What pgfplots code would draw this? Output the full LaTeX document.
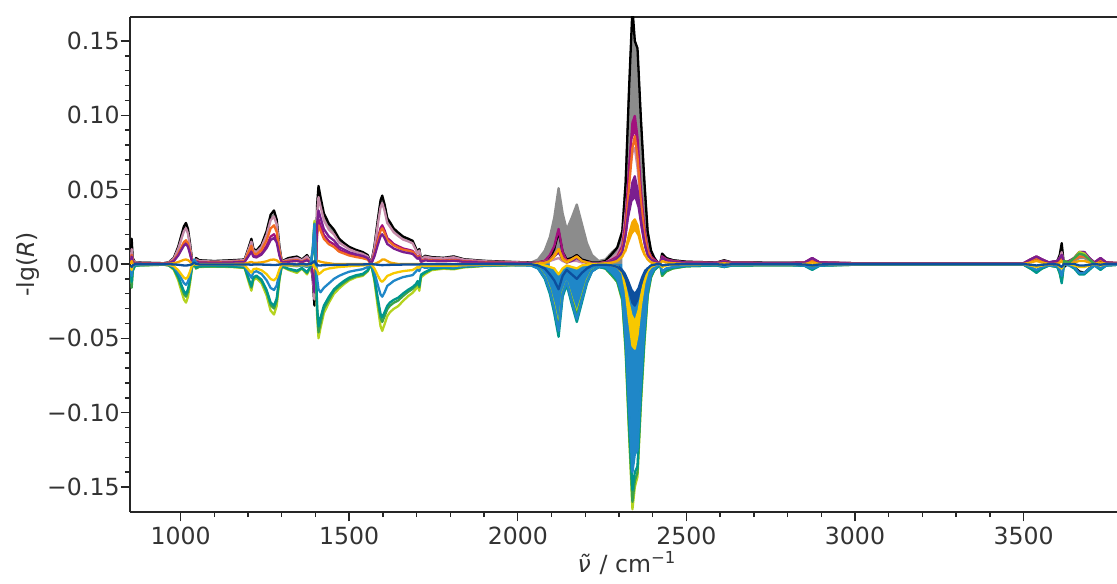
\documentclass[border=0pt]{standalone}
\usepackage{pgfplots}
\usepackage{pgfplotstable}
\usepackage{fontspec}
\setmainfont{DejaVu Sans}
\pgfplotsset{compat=1.18}
\definecolor{cblack}{HTML}{000000}
\definecolor{cgray}{HTML}{8C8C8C}
\definecolor{cmauve}{HTML}{C48AA8}
\definecolor{cmag}{HTML}{A2107D}
\definecolor{corange}{HTML}{F26B21}
\definecolor{cpurple}{HTML}{7B1E8F}
\definecolor{cgold}{HTML}{F5A700}
\definecolor{clime}{HTML}{B5D31F}
\definecolor{cgreen}{HTML}{3AA24A}
\definecolor{cteal}{HTML}{00968C}
\definecolor{cblue}{HTML}{1F87C8}
\definecolor{cdblue}{HTML}{0C4F9E}
\definecolor{cyellow}{HTML}{F7C800}

\pgfplotstableread{
x bk gr mv mg or pu go
852 0.004 0.003 0.002 0.002 0.001 0.001 0
855 0.017 0.012 0.010 0.006 0.006 0.005 0.002
858 0.004 0.003 0.003 0.002 0.002 0.001 0
865 0.001 0.001 0.001 0.0005 0.0005 0.0005 0
900 0.0008 0.0008 0.0006 0.0004 0.0004 0.0003 0
950 0.0005 0.0005 0.0004 0.0002 0.0002 0.0002 0
965 0.0011 0.001 0.001 0.0006 0.0006 0.0005 0.0001
980 0.0041 0.0038 0.0036 0.0023 0.0024 0.002 0.0005
993 0.0116 0.0105 0.0101 0.0063 0.0067 0.0057 0.0013
1003 0.0199 0.018 0.0173 0.0108 0.0115 0.0097 0.0022
1010 0.0254 0.023 0.0221 0.0138 0.0147 0.0124 0.0028
1016 0.0276 0.025 0.024 0.015 0.016 0.0135 0.003
1022 0.0235 0.0213 0.0204 0.0128 0.0136 0.0115 0.0026
1028 0.0138 0.0125 0.012 0.0075 0.008 0.0068 0.0015
1034 0.0028 0.0025 0.0024 0.0015 0.0016 0.0014 0.0003
1040 -0.001 -0.001 -0.001 -0.0005 -0.0005 -0.0005 0
1046 0.004 0.0035 0.003 0.002 0.002 0.0015 0
1055 0.0025 0.0022 0.002 0.0012 0.0012 0.001 0
1100 0.002 0.0018 0.0016 0.001 0.001 0.0008 0
1150 0.0025 0.0022 0.002 0.0012 0.0013 0.001 0
1190 0.003 0.0028 0.0026 0.0016 0.0018 0.0014 0.0002
1203 0.0119 0.0109 0.0106 0.0066 0.0086 0.0058 0.001
1210 0.0169 0.0155 0.015 0.0094 0.0122 0.0082 0.0014
1216 0.0101 0.0092 0.009 0.0056 0.0073 0.0049 0.0008
1225 0.009 0.0083 0.008 0.005 0.0065 0.0044 0.0008
1240 0.013 0.0119 0.0115 0.0072 0.0094 0.0063 0.0011
1255 0.022 0.0201 0.0195 0.0122 0.0159 0.0107 0.0018
1267 0.0331 0.0304 0.0294 0.0184 0.0239 0.0161 0.0028
1277 0.036 0.033 0.032 0.020 0.026 0.0175 0.003
1285 0.0299 0.0274 0.0266 0.0166 0.0216 0.0145 0.0025
1293 0.0119 0.0109 0.0106 0.0066 0.0086 0.0058 0.001
1300 0.0018 0.0017 0.0016 0.001 0.0013 0.0009 0.0002
1320 0.004 0.0035 0.003 0.002 0.002 0.0015 0
1345 0.005 0.0045 0.004 0.0025 0.0025 0.002 0
1360 0.003 0.0028 0.0025 0.0015 0.0015 0.0012 0
1375 0.006 0.0055 0.005 0.003 0.003 0.0025 0
1385 0.002 0.002 0.0018 0.001 0.001 0.001 0
1392 -0.010 -0.0091 -0.0086 -0.0057 -0.0049 -0.0068 0
1397 -0.028 -0.0254 -0.0239 -0.0159 -0.0138 -0.0191 -0.002
1401 -0.005 -0.0048 -0.0045 -0.003 -0.0026 -0.0036 0
1405 0.040 0.0365 0.0342 0.0228 0.0198 0.0274 0.002
1409 0.0525 0.048 0.045 0.030 0.026 0.036 0.002
1415 0.045 0.0413 0.0387 0.0258 0.0224 0.031 0.0015
1425 0.034 0.0312 0.0293 0.0195 0.0169 0.0234 0.001
1440 0.027 0.0245 0.023 0.0153 0.0133 0.0184 0.0005
1455 0.023 0.0211 0.0198 0.0132 0.0114 0.0158 0
1470 0.017 0.0154 0.0144 0.0096 0.0083 0.0115 0
1485 0.014 0.013 0.0122 0.0081 0.007 0.0097 0
1500 0.0115 0.0106 0.0099 0.0066 0.0057 0.0079 0
1520 0.0095 0.0086 0.0081 0.0054 0.0047 0.0065 0
1540 0.008 0.0072 0.0068 0.0045 0.0039 0.0054 0
1555 0.006 0.0053 0.005 0.0033 0.0029 0.004 0
1565 0 0 0 0 0 0 0
1575 0.012 0.0114 0.0107 0.0068 0.0062 0.0052 0
1585 0.0299 0.0286 0.0267 0.0169 0.0156 0.013 0.001
1593 0.0428 0.0409 0.0381 0.0242 0.0223 0.0186 0.002
1598 0.046 0.044 0.041 0.026 0.024 0.020 0.003
1605 0.040 0.0383 0.0357 0.0226 0.0209 0.0174 0.003
1613 0.0308 0.0295 0.0275 0.0174 0.0161 0.0134 0.002
1621 0.0281 0.0268 0.025 0.0159 0.0146 0.0122 0.001
1632 0.0239 0.0229 0.0213 0.0135 0.0125 0.0104 0.0005
1645 0.0212 0.0202 0.0189 0.012 0.011 0.0092 0
1660 0.0184 0.0176 0.0164 0.0104 0.0096 0.008 0
1675 0.017 0.0163 0.0152 0.0096 0.0089 0.0074 0
1688 0.0156 0.015 0.0139 0.0088 0.0082 0.0068 0
1697 0.011 0.0106 0.0098 0.0062 0.0058 0.0048 0
1703 0.0078 0.0075 0.007 0.0044 0.0041 0.0034 0
1708 0.0101 0.0097 0.009 0.0057 0.0053 0.0044 0
1713 0.0032 0.0031 0.0029 0.0018 0.0017 0.0014 0
1725 0.0055 0.0053 0.0049 0.0031 0.0029 0.0024 0
1745 0.0046 0.0044 0.0041 0.0026 0.0024 0.002 0
1780 0.0041 0.004 0.0037 0.0023 0.0022 0.0018 0
1810 0.0051 0.0048 0.0045 0.0029 0.0026 0.0022 0
1840 0.0032 0.0031 0.0029 0.0018 0.0017 0.0014 0
1900 0.0021 0.002 0.0018 0.0012 0.0011 0.0009 0
1980 0.0014 0.0013 0.0012 0.0008 0.0007 0.0006 0
2040 0.001 0.001 0.0008 0.0005 0.0005 0.0004 0
2060 0.001 0.003 0.001 0.001 0.0008 0.0006 0.0003
2080 0.002 0.009 0.0015 0.002 0.0015 0.0012 0.0008
2095 0.004 0.018 0.002 0.006 0.003 0.003 0.002
2108 0.010 0.031 0.003 0.012 0.006 0.005 0.005
2121 0.022 0.051 0.004 0.0236 0.010 0.008 0.010
2133 0.008 0.034 0.002 0.008 0.004 0.003 0.003
2145 0.003 0.023 0.001 0.002 0.002 0.001 0.001
2160 0.004 0.031 0.002 0.003 0.003 0.002 0.003
2175 0.006 0.040 0.002 0.005 0.005 0.004 0.005
2190 0.003 0.027 0.001 0.002 0.002 0.002 0.002
2205 0.002 0.014 0.001 0.001 0.001 0.001 0.001
2220 0.001 0.006 0.0005 0.0005 0.0005 0.0005 0
2240 0.001 0.002 0.0005 0.0005 0.0005 0.0005 0
2260 0.002 0.003 0.001 0.001 0.001 0.001 0.0005
2280 0.007 0.008 0.004 0.003 0.002 0.002 0.001
2295 0.011 0.011 0.007 0.005 0.004 0.004 0.002
2310 0.022 0.022 0.014 0.012 0.010 0.008 0.005
2320 0.055 0.055 0.035 0.030 0.024 0.020 0.010
2330 0.118 0.115 0.060 0.065 0.052 0.040 0.020
2340 0.172 0.164 0.075 0.095 0.078 0.055 0.028
2347 0.150 0.150 0.078 0.0996 0.086 0.059 0.030
2355 0.145 0.139 0.065 0.085 0.072 0.050 0.026
2365 0.098 0.095 0.040 0.050 0.042 0.030 0.015
2375 0.057 0.055 0.020 0.025 0.021 0.015 0.007
2385 0.022 0.021 0.009 0.010 0.009 0.006 0.003
2395 0.009 0.009 0.004 0.005 0.004 0.003 0.001
2405 0.004 0.004 0.002 0.003 0.002 0.002 0.0005
2415 0.001 0.001 0.001 0.001 0.001 0.001 0
2422 0 0 0 0 0 0 0
2428 0.007 0.006 0.005 0.005 0.004 0.004 0.002
2440 0.004 0.004 0.003 0.003 0.0025 0.0025 0.001
2460 0.0025 0.0025 0.002 0.002 0.0015 0.0015 0.0005
2500 0.0015 0.0015 0.001 0.001 0.001 0.001 0
2590 0.001 0.001 0.0008 0.0008 0.0006 0.0006 0
2612 0.0025 0.0022 0.002 0.002 0.0015 0.0015 0.0005
2635 0.001 0.001 0.0008 0.0008 0.0006 0.0006 0
2800 0.0008 0.0008 0.0006 0.0006 0.0005 0.0005 0
2850 0.001 0.001 0.001 0.001 0.0008 0.0008 0
2873 0.003 0.003 0.003 0.004 0.002 0.004 0.001
2895 0.001 0.001 0.001 0.001 0.0008 0.001 0
3000 0.0005 0.0005 0.0005 0.0005 0.0004 0.0004 0
3400 0.0005 0.0005 0.0005 0.0005 0.0004 0.0004 0
3500 0.0005 0.0005 0.0005 0.0005 0.0004 0.0004 0
3520 0.002 0.003 0.003 0.003 0.002 0.003 0.001
3538 0.004 0.005 0.005 0.005 0.004 0.005 0.002
3555 0.002 0.003 0.003 0.003 0.002 0.003 0.001
3575 0.001 0.001 0.001 0.001 0.001 0.001 0
3600 0.002 0.002 0.002 0.002 0.001 0.002 0
3607 0.006 0.005 0.004 0.004 0.003 0.004 0.001
3613 0.014 0.011 0.008 0.006 0.005 0.006 0.002
3620 -0.002 -0.002 0.0 0.001 0.0 0.001 0
3635 0.001 0.002 0.002 0.002 0.001 0.002 0
3650 -0.002 0.002 0.003 0.004 0.003 0.004 0.001
3665 -0.005 0.004 0.006 0.008 0.005 0.008 0.002
3680 -0.006 0.004 0.006 0.008 0.005 0.008 0.002
3695 -0.003 0.002 0.003 0.004 0.003 0.004 0.001
3710 0.0 0.001 0.001 0.001 0.001 0.001 0
3728 0.002 0.003 0.003 0.004 0.003 0.004 0.001
3745 0.001 0.001 0.001 0.001 0.001 0.001 0
3780 0.0005 0.0005 0.0005 0.0005 0.0005 0.0005 0
}\pos

\pgfplotstableread{
x li gn te bl db ye
852 -0.004 -0.006 -0.005 -0.003 -0.001 -0.002
855 -0.013 -0.016 -0.012 -0.008 -0.002 -0.004
858 -0.004 -0.005 -0.004 -0.002 -0.001 -0.001
865 -0.001 -0.001 -0.001 -0.0005 0 0
900 -0.0008 -0.0008 -0.0007 -0.0004 -0.0002 -0.0002
950 -0.0005 -0.0005 -0.0004 -0.0002 -0.0001 -0.0001
965 -0.001 -0.0009 -0.0008 -0.0006 -0.0002 -0.0004
980 -0.0039 -0.0033 -0.003 -0.0021 -0.0003 -0.0015
993 -0.0109 -0.0092 -0.0084 -0.0059 -0.0005 -0.0042
1003 -0.0187 -0.0158 -0.0144 -0.0101 -0.0008 -0.0072
1010 -0.0239 -0.0202 -0.0184 -0.0129 -0.001 -0.0092
1016 -0.026 -0.022 -0.020 -0.014 -0.001 -0.010
1022 -0.0221 -0.0187 -0.017 -0.0119 -0.0009 -0.0085
1028 -0.013 -0.011 -0.010 -0.007 -0.0006 -0.005
1034 -0.0026 -0.0022 -0.002 -0.0014 -0.0002 -0.001
1040 0.0005 0.0005 0.0005 0.003 0.001 0
1046 -0.003 -0.003 -0.0025 0.001 0 -0.0005
1055 -0.002 -0.0018 -0.0015 -0.0005 -0.0003 -0.0003
1100 -0.0018 -0.0016 -0.0014 -0.0005 -0.0003 -0.0003
1150 -0.002 -0.0018 -0.0016 -0.0005 -0.0003 -0.0003
1190 -0.0027 -0.0024 -0.0022 -0.0014 -0.0003 -0.0009
1203 -0.0129 -0.0114 -0.0106 -0.0067 -0.0004 -0.0042
1210 -0.018 -0.0159 -0.0148 -0.0093 -0.0005 -0.0058
1216 -0.0109 -0.0096 -0.009 -0.0056 -0.0004 -0.0035
1225 -0.0095 -0.0084 -0.0078 -0.0049 -0.0004 -0.0031
1240 -0.0129 -0.0114 -0.0106 -0.0067 -0.0004 -0.0042
1255 -0.0211 -0.0186 -0.0174 -0.0109 -0.0005 -0.0068
1267 -0.0313 -0.0276 -0.0258 -0.0161 -0.0006 -0.0101
1277 -0.034 -0.030 -0.028 -0.0175 -0.0007 -0.011
1285 -0.0282 -0.0249 -0.0232 -0.0145 -0.0006 -0.0091
1293 -0.0112 -0.0099 -0.0092 -0.0058 -0.0004 -0.0036
1300 -0.0017 -0.0015 -0.0014 -0.0009 -0.0002 -0.0006
1320 -0.004 -0.0035 -0.0032 -0.001 -0.0002 -0.001
1345 -0.006 -0.005 -0.0045 -0.0015 -0.0003 -0.001
1360 -0.003 -0.003 -0.0027 -0.001 -0.0002 -0.0008
1375 -0.007 -0.006 -0.0055 -0.002 -0.0003 -0.001
1385 -0.002 -0.002 -0.0018 -0.0005 -0.0001 -0.0005
1392 0.010 0.009 0.008 0.010 0.001 0.0
1397 0.029 0.027 0.026 0.027 0.002 -0.002
1401 0.0 0.0 0.0 0.004 0.0005 -0.003
1405 -0.035 -0.032 -0.029 -0.010 -0.0005 -0.004
1409 -0.050 -0.046 -0.042 -0.017 -0.001 -0.007
1415 -0.043 -0.040 -0.036 -0.019 -0.001 -0.006
1425 -0.033 -0.030 -0.028 -0.016 -0.0008 -0.004
1440 -0.026 -0.024 -0.022 -0.013 -0.0007 -0.003
1455 -0.020 -0.018 -0.017 -0.010 -0.0006 -0.0025
1470 -0.0165 -0.015 -0.0139 -0.008 -0.0005 -0.002
1485 -0.0135 -0.0124 -0.0113 -0.0065 -0.0005 -0.0018
1500 -0.011 -0.0101 -0.0092 -0.0052 -0.0004 -0.0015
1520 -0.009 -0.0083 -0.0076 -0.0043 -0.0004 -0.0012
1540 -0.008 -0.0074 -0.0067 -0.0035 -0.0003 -0.001
1555 -0.005 -0.0046 -0.0042 -0.002 -0.0002 -0.0006
1565 0 0 0 0 0 0
1575 -0.0117 -0.0101 -0.0094 -0.0057 -0.0003 -0.0031
1585 -0.0293 -0.0254 -0.0234 -0.0143 -0.0005 -0.0078
1593 -0.0419 -0.0363 -0.0335 -0.0205 -0.0007 -0.0112
1598 -0.045 -0.039 -0.036 -0.022 -0.0008 -0.012
1605 -0.0405 -0.0351 -0.0324 -0.0191 -0.0007 -0.0104
1613 -0.0351 -0.0304 -0.0281 -0.0147 -0.0006 -0.008
1621 -0.0324 -0.0281 -0.0259 -0.0134 -0.0006 -0.0073
1632 -0.0302 -0.0261 -0.0241 -0.0114 -0.0005 -0.0062
1645 -0.0284 -0.0246 -0.0227 -0.0101 -0.0005 -0.0055
1660 -0.0248 -0.0215 -0.0198 -0.0088 -0.0004 -0.0048
1675 -0.0216 -0.0187 -0.0173 -0.0081 -0.0004 -0.0044
1688 -0.0194 -0.0168 -0.0155 -0.0075 -0.0004 -0.0041
1697 -0.0171 -0.0148 -0.0137 -0.0053 -0.0003 -0.0029
1703 -0.0144 -0.0125 -0.0115 -0.0037 -0.0003 -0.002
1708 -0.018 -0.0156 -0.0144 -0.0048 -0.0003 -0.0026
1713 -0.009 -0.0078 -0.0072 -0.0015 -0.0002 -0.0008
1725 -0.0068 -0.0059 -0.0054 -0.0026 -0.0002 -0.0014
1745 -0.0041 -0.0035 -0.0032 -0.0022 -0.0002 -0.0012
1780 -0.0032 -0.0027 -0.0025 -0.002 -0.0002 -0.0011
1810 -0.0036 -0.0031 -0.0029 -0.0024 -0.0002 -0.0013
1840 -0.0023 -0.002 -0.0018 -0.0015 -0.0002 -0.0008
1900 -0.0014 -0.0012 -0.0011 -0.001 -0.0001 -0.0005
1980 -0.0009 -0.0008 -0.0007 -0.0007 -0.0001 -0.0004
2040 -0.0007 -0.0006 -0.001 -0.001 -0.0002 -0.0003
2060 -0.0025 -0.0027 -0.003 -0.003 -0.001 -0.0005
2080 -0.0085 -0.009 -0.010 -0.009 -0.003 -0.001
2095 -0.017 -0.018 -0.020 -0.018 -0.007 -0.002
2108 -0.028 -0.030 -0.033 -0.030 -0.011 -0.003
2121 -0.042 -0.044 -0.049 -0.045 -0.017 -0.007
2133 -0.019 -0.020 -0.022 -0.020 -0.008 -0.003
2145 -0.012 -0.013 -0.014 -0.012 -0.004 -0.001
2160 -0.023 -0.024 -0.027 -0.025 -0.007 -0.002
2175 -0.033 -0.035 -0.039 -0.037 -0.010 -0.003
2190 -0.022 -0.023 -0.026 -0.024 -0.006 -0.001
2205 -0.011 -0.012 -0.013 -0.012 -0.003 -0.0005
2220 -0.0045 -0.0048 -0.005 -0.005 -0.001 0
2240 -0.002 -0.002 -0.002 -0.002 -0.0005 0
2260 -0.003 -0.003 -0.003 -0.002 -0.0005 0
2280 -0.008 -0.008 -0.007 -0.006 -0.001 -0.001
2295 -0.012 -0.012 -0.011 -0.010 -0.002 -0.002
2310 -0.025 -0.024 -0.023 -0.021 -0.005 -0.006
2320 -0.060 -0.058 -0.055 -0.050 -0.010 -0.018
2330 -0.115 -0.112 -0.106 -0.098 -0.018 -0.038
2340 -0.165 -0.160 -0.152 -0.140 -0.026 -0.055
2347 -0.150 -0.146 -0.140 -0.128 -0.028 -0.057
2355 -0.143 -0.140 -0.136 -0.125 -0.024 -0.048
2365 -0.095 -0.092 -0.088 -0.080 -0.014 -0.028
2375 -0.055 -0.053 -0.050 -0.045 -0.007 -0.013
2385 -0.022 -0.021 -0.020 -0.018 -0.003 -0.005
2395 -0.009 -0.009 -0.008 -0.007 -0.001 -0.002
2405 -0.004 -0.004 -0.004 -0.003 -0.0005 -0.001
2415 -0.002 -0.002 -0.002 -0.001 0 0
2422 0 0 0 0 0 0
2428 -0.008 -0.008 -0.007 -0.005 -0.001 -0.002
2440 -0.005 -0.005 -0.004 -0.003 -0.0005 -0.001
2460 -0.003 -0.003 -0.0025 -0.002 -0.0003 -0.0005
2500 -0.0015 -0.0015 -0.0015 -0.001 -0.0002 -0.0003
2590 -0.001 -0.001 -0.001 -0.0008 -0.0002 -0.0002
2612 -0.002 -0.002 -0.002 -0.0018 -0.0005 -0.0005
2635 -0.001 -0.001 -0.001 -0.0008 -0.0002 -0.0002
2800 -0.0008 -0.0008 -0.0008 -0.0006 -0.0002 -0.0002
2850 -0.001 -0.001 -0.0012 -0.001 -0.0003 -0.0002
2873 -0.002 -0.002 -0.004 -0.003 -0.001 -0.001
2895 -0.001 -0.001 -0.0012 -0.001 -0.0003 -0.0002
3000 -0.0005 -0.0005 -0.0005 -0.0004 -0.0001 -0.0001
3400 -0.0005 -0.0005 -0.0005 -0.0004 -0.0001 -0.0001
3500 -0.0005 -0.0005 -0.0005 -0.0004 -0.0001 -0.0001
3520 -0.003 -0.003 -0.003 -0.002 -0.0005 -0.001
3538 -0.005 -0.005 -0.006 -0.004 -0.001 -0.002
3555 -0.003 -0.003 -0.003 -0.002 -0.0005 -0.001
3575 -0.001 -0.001 -0.001 -0.001 -0.0002 -0.0003
3600 -0.002 -0.002 -0.002 -0.0015 -0.0003 -0.0005
3607 -0.006 -0.006 -0.006 -0.004 -0.001 -0.002
3613 -0.012 -0.011 -0.013 -0.008 -0.002 -0.003
3620 0.002 0.002 0.0 0.0 0 0
3635 0.001 0.001 -0.001 -0.001 0 0
3650 0.004 0.004 -0.003 -0.002 0 -0.001
3665 0.008 0.007 -0.007 -0.006 -0.001 -0.002
3680 0.007 0.006 -0.007 -0.006 -0.001 -0.002
3695 0.003 0.003 -0.004 -0.003 -0.0005 -0.001
3710 0.0 0.0 -0.001 -0.001 0 0
3728 -0.003 -0.003 -0.004 -0.003 -0.0005 -0.001
3745 -0.001 -0.001 -0.001 -0.001 0 0
3780 -0.0005 -0.0005 -0.0005 -0.0005 0 0
}\neg

\pgfplotstableread{
x y
2320 0.030
2330 0.065
2340 0.095
2347 0.0996
2355 0.085
2365 0.050
2375 0.025
2375 0.020
2365 0.042
2355 0.074
2347 0.088
2340 0.084
2330 0.057
2320 0.025
}\mgband

\pgfplotstableread{
x y
2310 0.008
2320 0.020
2330 0.040
2340 0.055
2347 0.059
2355 0.050
2365 0.030
2375 0.015
2385 0.006
2385 0.004
2375 0.011
2365 0.023
2355 0.038
2347 0.044
2340 0.042
2330 0.031
2320 0.015
2310 0.006
}\puband

\pgfplotstableread{
x y
2320 0.010
2330 0.020
2340 0.028
2347 0.030
2355 0.026
2365 0.015
2375 0.007
2375 0.005
2365 0.010
2355 0.019
2347 0.022
2340 0.020
2330 0.014
2320 0.007
}\goband

\pgfplotstableread{
x y
2310 -0.004
2320 -0.012
2330 -0.024
2340 -0.034
2347 -0.037
2355 -0.031
2365 -0.018
2375 -0.008
2385 -0.003
2385 -0.005
2375 -0.013
2365 -0.028
2355 -0.048
2347 -0.057
2340 -0.055
2330 -0.038
2320 -0.018
2310 -0.006
}\yeband

\pgfplotstableread{
x y
2300 -0.001
2310 -0.003
2320 -0.006
2330 -0.011
2340 -0.017
2347 -0.019
2355 -0.016
2365 -0.009
2375 -0.004
2385 -0.002
2385 -0.003
2375 -0.007
2365 -0.014
2355 -0.024
2347 -0.028
2340 -0.026
2330 -0.018
2320 -0.010
2310 -0.005
2300 -0.002
}\dbband

\begin{document}
\begin{tikzpicture}
\begin{axis}[
  scale only axis,
  width=493.5pt, height=247.5pt,
  xmin=850, xmax=3777,
  ymin=-0.1668, ymax=0.1661,
  axis x line*=box, axis y line*=left,
  axis line style={line width=0.8pt, black!85},
  xtick pos=left, ytick pos=left,
  tick align=outside,
  major tick length=4.7pt, minor tick length=2.6pt,
  every tick/.style={line width=0.7pt, black!85},
  minor tick num=4,
  xtick={1000,1500,2000,2500,3000,3500},
  xticklabels={1000,1500,2000,2500,3000,3500},
  ytick={-0.15,-0.1,-0.05,0,0.05,0.1,0.15},
  yticklabels={−0.15,−0.10,−0.05,0.00,0.05,0.10,0.15},
  tick label style={font=\fontsize{11.8}{14}\selectfont, text=black!80},
  yticklabel style={xshift=3pt},
  xticklabel style={yshift=0.5pt},
  label style={font=\fontsize{11.8}{14}\selectfont, text=black!80},
  xlabel={\textit{ν̃} / cm\textsuperscript{−1}},
  ylabel={-lg(\textit{R})},
  x label style={at={(axis description cs:0.5035,0)}, anchor=center, yshift=-25.5pt},
  y label style={at={(axis description cs:-0.1033,0.5)}, anchor=center},
  every axis plot/.append style={line width=1.15pt, line join=round},
]
\addplot[fill=cgray, draw=none, restrict x to domain=2040:2422] table[x=x, y=gr]{\pos} \closedcycle;
\addplot[fill=cblue, draw=none, restrict x to domain=2040:2422] table[x=x, y=bl]{\neg} \closedcycle;
\addplot[fill=white, draw=none, restrict x to domain=2305:2395] table[x=x, y=mg]{\pos} \closedcycle;
\addplot[fill=white, draw=none, restrict x to domain=2305:2395] table[x=x, y=db]{\neg} \closedcycle;
\addplot[fill=white, draw=none, restrict x to domain=2095:2205] table[x=x, y=pu]{\pos} \closedcycle;
\addplot[fill=white, draw=none, restrict x to domain=2095:2205] table[x=x, y=ye]{\neg} \closedcycle;
\addplot[cgray] table[x=x, y=gr]{\pos};
\addplot[cblack] table[x=x, y=bk]{\pos};
\addplot[cmauve] table[x=x, y=mv]{\pos};
\addplot[fill=cmag, draw=none] table{\mgband};
\addplot[cmag] table[x=x, y=mg]{\pos};
\addplot[corange] table[x=x, y=or]{\pos};
\addplot[fill=cpurple, draw=none] table{\puband};
\addplot[cpurple] table[x=x, y=pu]{\pos};
\addplot[fill=cgold, draw=none] table{\goband};
\addplot[cgold] table[x=x, y=go]{\pos};
\addplot[clime] table[x=x, y=li]{\neg};
\addplot[cgreen] table[x=x, y=gn]{\neg};
\addplot[cteal] table[x=x, y=te]{\neg};
\addplot[cblue] table[x=x, y=bl]{\neg};
\addplot[fill=cyellow, draw=none] table{\yeband};
\addplot[cyellow] table[x=x, y=ye]{\neg};
\addplot[fill=cdblue, draw=none] table{\dbband};
\addplot[cdblue] table[x=x, y=db]{\neg};
\end{axis}
\pgfresetboundingbox
\path[use as bounding box] (current axis.south west) ++(-65pt,-35.5pt) rectangle ++(558.5pt,291.5pt);
\end{tikzpicture}
\end{document}
